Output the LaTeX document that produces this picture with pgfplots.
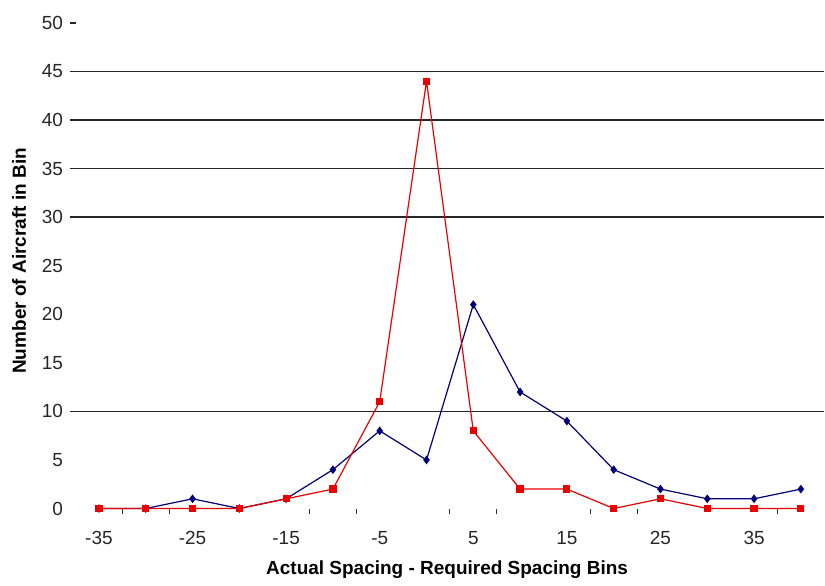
\documentclass[border=0pt]{standalone}
\usepackage{pgfplots}
\pgfplotsset{compat=1.18}
\usepackage{fontspec}
\setmainfont{Liberation Sans}
\definecolor{navyb}{RGB}{0,0,120}
\definecolor{redr}{RGB}{235,0,0}
\begin{document}
\begin{tikzpicture}
\begin{axis}[
  scale only axis,
  width=377.5pt, height=243pt,
  xmin=-38.1, xmax=42.5,
  ymin=0, ymax=50,
  axis line style={draw=none},
  tick style={draw=none},
  xtick pos=bottom,
  xtick={-35,-25,...,35},
  ytick={0,5,...,50},
  extra y ticks={10,30,35,40,45},
  extra y tick labels={},
  extra y tick style={grid=major, major grid style={black!85, line width=0.75pt}},
  extra x ticks={-32.5,-27.5,-12.5,-7.5,2.5,7.5,17.5,22.5,37.5},
  extra x tick labels={},
  extra x tick style={tick style={draw=black!80, line width=0.5pt}, major tick length=2.5pt, tick align=outside, xtick pos=bottom},
  /pgf/number format/assume math mode=true,
  ticklabel style={font=\fontsize{9.5}{11}\selectfont, text=black!85},
  xticklabel style={anchor=base, yshift=-18pt},
  xlabel={\bfseries Actual Spacing - Required Spacing Bins},
  ylabel={\bfseries Number of Aircraft in Bin},
  label style={font=\fontsize{9.5}{11}\selectfont},
  xlabel style={at={(axis description cs:0.5,0)}, anchor=center, yshift=-30.5pt},
  ylabel style={at={(axis description cs:0,0.51)}, anchor=center, yshift=25.5pt},
  clip=false,
]
\path (rel axis cs:0,1) -- ++(-35pt,11.5pt);
\path (rel axis cs:1,0) -- ++(0pt,-35.5pt);
\addplot[black!85, line width=0.6pt, forget plot] coordinates {(-38.1,50) (-37.5,50)};
\addplot[navyb, line width=0.6pt, mark=diamond*, mark size=1.7pt, mark options={solid, fill=navyb}] coordinates {
(-35,0) (-30,0) (-25,1) (-20,0) (-15,1) (-10,4) (-5,8) (0,5) (5,21) (10,12) (15,9) (20,4) (25,2) (30,1) (35,1) (40,2)
};
\addplot[redr, line width=0.6pt, mark=square*, mark size=1.5pt, mark options={solid, fill=redr}] coordinates {
(-35,0) (-30,0) (-25,0) (-20,0) (-15,1) (-10,2) (-5,11) (0,44) (5,8) (10,2) (15,2) (20,0) (25,1) (30,0) (35,0) (40,0)
};
\end{axis}
\end{tikzpicture}
\end{document}
